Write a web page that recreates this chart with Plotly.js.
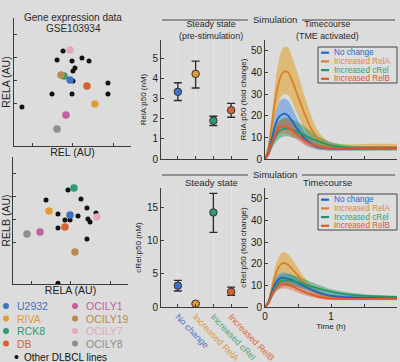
<!DOCTYPE html>
<html><head><meta charset="utf-8">
<script src="https://cdn.plot.ly/plotly-3.0.1.min.js"></script>
<style>html,body{margin:0;padding:0;background:#dcdcdc;}#plot{width:400px;height:362px;}</style>
</head><body><div id="plot"></div>
<script>
// ---------- DATA ----------
const cellLines = ['U2932','RIVA','RCK8','DB','OCILY1','OCILY19','OCILY7','OCILY8'];
const cellColors = ['#3d72c4','#e39a33','#2f9a70','#d8622f','#c0609f','#b9894f','#e3a9c3','#8e8e8e'];
// Panel A1: REL vs RELA (AU)
const relA1 = [4.79,6.92,4.27,6.24,4.44,4.02,4.79,3.68];
const relaA1 = [5.16,3.28,5.47,4.69,2.42,5.55,7.50,1.33];
const otherRelA1 = [4.19,3.68,4.96,5.81,6.41,5.21,5.04,5.04,8.03,3.25,4.96,8.03,0.68];
const otherRelaA1 = [7.42,6.72,6.64,6.88,6.64,6.09,5.86,5.08,4.92,4.06,4.06,4.06,3.05];
// Panel A2: RELA vs RELB (AU)
const relaA2 = [4.96,3.13,5.30,4.52,2.35,5.39,7.30,1.22];
const relbA2 = [5.43,5.75,7.56,4.49,4.09,2.52,5.28,3.94];
const otherRelaA2 = [4.78,2.87,5.91,6.43,3.91,5.65,7.22,4.52,4.96,6.52,6.70,3.91,6.43,3.91];
const otherRelbA2 = [7.40,6.61,6.69,5.98,5.51,5.35,5.59,5.04,5.04,5.12,4.88,4.41,3.54,0.05];
// Steady state
const conditions = ['No change','Increased RelA','Increased cRel','Increased RelB'];
const condColors = ['#3d72c4','#e39a33','#2f9a70','#d8622f'];
const condTextColors = ['#4a74c4','#e0963f','#4aa77a','#e0653e'];
const relaSS = [3.33,4.22,1.90,2.42];
const relaSSlo = [2.90,3.52,1.66,2.07];
const relaSShi = [3.78,4.85,2.12,2.76];
const crelSS = [3.23,0.50,14.3,2.30];
const crelSSlo = [2.42,0.35,11.3,1.77];
const crelSShi = [4.04,0.65,17.2,3.00];
// Timecourse
const time = [0,0.05,0.1,0.15,0.2,0.25,0.3,0.35,0.4,0.5,0.6,0.7,0.8,0.9,1.0,1.2,1.4,1.6,1.8,2.0];
const relaTC = {
  blue:   {m:[0,3,9,15,19,20.5,21,20,18,13.5,9.5,7,5.5,5,4.8,4.8,4.9,5,5,5],
           lo:[0,2,6.5,11,14,15,15.5,15,13.5,10,7,5.2,4.3,3.9,3.8,3.8,3.9,4,4,4],
           hi:[0,4,12,20,25,27.5,28,27,24.5,18,12.5,9,7,6,5.7,5.7,5.8,5.9,6,6]},
  orange: {m:[0,5,15,26,34,39,40.5,40,37,29,21,14,9.5,7,5.8,5.2,5.2,5.3,5.4,5.5],
           lo:[0,3,10,19,25,29,30,29.5,27,20,14,9,6.5,5,4.3,4,4,4,4.2,4.3],
           hi:[0,7,20,34,44,50,52,51.5,48,39,29,20,13,9.5,7.5,6.8,6.8,7,7,7]},
  green:  {m:[0,2,6.5,10,12.5,13.5,14,14,13.5,12.5,11,9.5,8.3,7.2,6.3,5.4,5,4.9,4.9,5],
           lo:[0,1.5,4.5,7,9,10,10.5,10.5,10,9.5,8.5,7.3,6.3,5.5,4.8,4.3,4,3.9,3.9,4],
           hi:[0,3,9,14,17,18.5,19,19,18.5,17,15,12.5,10.5,9,7.8,6.5,6,5.9,5.9,6]},
  red:    {m:[0,2.2,7,11,14,15,15,14.5,13.5,11,8.5,6.8,5.8,5.2,5,4.9,4.9,5,5,5],
           lo:[0,1.6,5,8.5,11,12,12,11.5,10.5,8.5,6.5,5.3,4.6,4.2,4,4,4,4.1,4.1,4.1],
           hi:[0,3,9,14,17,18,18.5,18,17,14,11,8.5,7,6.2,5.8,5.7,5.7,5.8,5.8,5.9]}
};
const crelTC = {
  blue:   {m:[0,2,6.5,10.5,12.5,13.5,13.5,13,12.5,11,9.5,8,6.8,5.8,5.2,4.6,4.3,4.2,4.1,4.1],
           lo:[0,1.5,5,8.5,10,11,11,10.5,10,9,7.8,6.7,5.7,4.9,4.4,3.9,3.7,3.6,3.5,3.5],
           hi:[0,2.5,8,13,15,16,16,15.5,15,13,11,9.3,8,6.8,6,5.3,5,4.8,4.7,4.7]},
  orange: {m:[0,2.5,8,14,18,20,20.3,19.5,18,14.5,11,8,6,5,4.3,4,4,4,4,4],
           lo:[0,1.5,5.5,10,13.5,15,15.3,14.5,13.5,11,8.5,6.2,4.8,4,3.5,3.3,3.3,3.3,3.3,3.3],
           hi:[0,3.5,10.5,18,22.5,25,25.3,24.5,22.5,18,13.5,10,7.5,6,5.2,4.8,4.8,4.8,4.8,4.8]},
  green:  {m:[0,1.8,5.5,9,11,12,12.3,12.3,12,11.5,10.5,9.5,8.6,7.8,7,6,5.4,5,4.8,4.7],
           lo:[0,1.3,4,6.8,8.3,9.3,9.6,9.6,9.5,9.1,8.4,7.6,6.9,6.3,5.8,5,4.6,4.3,4.2,4.1],
           hi:[0,2.3,7,11.5,14,15,15.3,15.3,15,14,12.8,11.5,10.3,9.3,8.3,7,6.2,5.7,5.4,5.2]},
  red:    {m:[0,1.6,5,8,9.8,10.5,10.5,10.2,9.7,8.3,6.9,5.7,4.8,4.2,3.9,3.8,3.8,3.8,3.8,3.8],
           lo:[0,1.2,3.8,6.3,7.8,8.5,8.5,8.3,7.8,6.6,5.5,4.6,3.9,3.4,3.2,3.1,3.1,3.1,3.1,3.1],
           hi:[0,2,6.2,9.8,11.8,12.5,12.5,12.2,11.6,10,8.3,6.8,5.7,5,4.6,4.4,4.4,4.4,4.4,4.4]}
};
const tcOrder = ['blue','orange','green','red'];
const tcLine = {blue:'#2063c8',orange:'#d98028',green:'#23956a',red:'#e2562b'};
const tcBand = {blue:'rgba(80,145,220,0.55)',orange:'rgba(222,165,50,0.6)',green:'rgba(50,150,100,0.5)',red:'rgba(225,95,55,0.45)'};
const tcLegendText = {blue:'#2a64d0',orange:'#e0883a',green:'#3a9e70',red:'#e2562b'};

// ---------- LAYOUT HELPERS ----------
const W=400,H=362;
const FONT='Liberation Sans, Arial, sans-serif';
function xd(a,b){return [a/W,b/W];}
function yd(t,b){return [1-b/H,1-t/H];}
function px(x){return x/W;} function py(y){return 1-y/H;}
const base = {showline:true,linecolor:'#3c3c3c',linewidth:1,ticks:'inside',ticklen:3,tickcolor:'#3c3c3c',
  showgrid:false,zeroline:false,tickfont:{size:10,color:'#222',family:FONT},fixedrange:true};
function A(o){return Object.assign({},base,o);}

const traces=[];
// Scatter A1
traces.push({x:otherRelA1,y:otherRelaA1,xaxis:'x',yaxis:'y',mode:'markers',type:'scatter',
  marker:{color:'#111',size:5},showlegend:false,cliponaxis:true});
traces.push({x:relA1,y:relaA1,xaxis:'x',yaxis:'y',mode:'markers',type:'scatter',text:cellLines,
  marker:{color:cellColors,size:7.5},showlegend:false});
// Scatter A2
traces.push({x:otherRelaA2,y:otherRelbA2,xaxis:'x2',yaxis:'y2',mode:'markers',type:'scatter',
  marker:{color:'#111',size:5},showlegend:false,cliponaxis:true});
traces.push({x:relaA2,y:relbA2,xaxis:'x2',yaxis:'y2',mode:'markers',type:'scatter',text:cellLines,
  marker:{color:cellColors,size:7.5},showlegend:false});
// Steady state
const idx=[1,2,3,4];
function ss(vals,lo,hi,xa,ya){
  return {x:idx,y:vals,xaxis:xa,yaxis:ya,type:'scatter',mode:'markers',showlegend:false,
    marker:{color:condColors,size:7.5,line:{color:'#333',width:1}},
    error_y:{type:'data',symmetric:false,array:vals.map((v,i)=>hi[i]-v),arrayminus:vals.map((v,i)=>v-lo[i]),
      color:'#2a2a2a',thickness:1.3,width:4}};
}
traces.push(ss(relaSS,relaSSlo,relaSShi,'x3','y3'));
traces.push(ss(crelSS,crelSSlo,crelSShi,'x4','y4'));
// Timecourse
function tc(data,xa,ya){
  ['orange','blue','green','red'].forEach(k=>{
    traces.push({x:time,y:data[k].lo,xaxis:xa,yaxis:ya,type:'scatter',mode:'lines',line:{width:0,shape:'spline'},showlegend:false,hoverinfo:'skip'});
    traces.push({x:time,y:data[k].hi,xaxis:xa,yaxis:ya,type:'scatter',mode:'lines',fill:'tonexty',fillcolor:tcBand[k],line:{width:0,shape:'spline'},showlegend:false,hoverinfo:'skip'});
  });
  ['orange','blue','green','red'].forEach(k=>{
    traces.push({x:time,y:data[k].m,xaxis:xa,yaxis:ya,type:'scatter',mode:'lines',line:{width:1.8,color:tcLine[k],shape:'spline'},showlegend:false});
  });
}
tc(relaTC,'x5','y5');
tc(crelTC,'x6','y6');

// ---------- annotations & shapes ----------
const ann=[]; const shapes=[];
function T(text,x,y,size,opts){ann.push(Object.assign({text:text,x:px(x),y:py(y),xref:'paper',yref:'paper',showarrow:false,
  font:{size:size,color:'#2a2a2a',family:FONT},xanchor:'center',yanchor:'middle'},opts||{}));}
T('Gene expression data',73,17,10);
T('GSE103934',73,29,10);
[20,175].forEach(y=>{
  T('Simulation',275,y,9.5);
  shapes.push({type:'line',xref:'paper',yref:'paper',x0:px(162),x1:px(248),y0:py(y),y1:py(y),line:{color:'#444',width:1}});
  shapes.push({type:'line',xref:'paper',yref:'paper',x0:px(302),x1:px(395),y0:py(y),y1:py(y),line:{color:'#444',width:1}});
});
T('Steady state<br>(pre-stimulation)',211,30.5,8.9);
T('Timecourse<br>(TME activated)',327.5,30.5,8.9);
T('Steady state',211,182,9.5);
T('Timecourse',327,182,9.5);

// cell line legend
const legPos=[[6,306],[6,318.5],[6,331],[6,343.5],[75,306],[75,318.5],[75,331],[75,343.5]];
cellLines.forEach((n,i)=>{
  const [lx,ly]=legPos[i];
  shapes.push({type:'circle',xref:'paper',yref:'paper',x0:px(lx-3),x1:px(lx+3),y0:py(ly+3),y1:py(ly-3),fillcolor:cellColors[i],line:{width:0}});
  T(n,lx+9,ly,10.5,{xanchor:'left',font:{size:10.5,color:cellColors[i],family:FONT}});
});
shapes.push({type:'circle',xref:'paper',yref:'paper',x0:px(14.5),x1:px(18.5),y0:py(359),y1:py(355),fillcolor:'#111',line:{width:0}});
T('Other DLBCL lines',22,357,10,{xanchor:'left',font:{size:10,color:'#111',family:FONT}});

// timecourse legends
function tleg(top){
  shapes.push({type:'rect',xref:'paper',yref:'paper',x0:px(318),x1:px(397),y0:py(top+36),y1:py(top),line:{color:'#444',width:1},fillcolor:'#dedede',layer:'above'});
  tcOrder.forEach((k,i)=>{
    const y=top+5.7+i*8.7;
    shapes.push({type:'line',xref:'paper',yref:'paper',x0:px(321),x1:px(329),y0:py(y),y1:py(y),line:{color:tcLine[k],width:2.2}});
    T(conditions[i],331.5,y,8.2,{xanchor:'left',font:{size:8.2,color:tcLegendText[k],family:FONT}});
  });
}
tleg(47); tleg(194);

const layout={
  width:W,height:H,margin:{l:0,r:0,t:0,b:0},paper_bgcolor:'#dcdcdc',plot_bgcolor:'rgba(0,0,0,0)',
  font:{family:FONT,color:'#222'},showlegend:false,
  xaxis:A({domain:xd(14,131),range:[0,10],showticklabels:false,tickvals:[1.6,5.0,8.5],
    title:{text:'REL (AU)',font:{size:10.5,color:'#222'},standoff:2},anchor:'y'}),
  yaxis:A({domain:yd(18,146),range:[0,10],showticklabels:false,tickvals:[3.3,5.1,6.9,8.7],
    title:{text:'RELA (AU)',font:{size:10.5,color:'#222'},standoff:2},anchor:'x'}),
  xaxis2:A({domain:xd(13,128),range:[0,10],showticklabels:false,tickvals:[1.6,5.0,8.5],
    title:{text:'RELA (AU)',font:{size:10.5,color:'#222'},standoff:2},anchor:'y2'}),
  yaxis2:A({domain:yd(157,284),range:[0,10],showticklabels:false,tickvals:[3.3,5.1,6.9,8.7],
    title:{text:'RELB (AU)',font:{size:10.5,color:'#222'},standoff:2},anchor:'x2'}),
  xaxis3:A({domain:xd(161,248),range:[0.05,4.95],tickvals:idx,showticklabels:false,showgrid:true,gridcolor:'#e4e4e4',gridwidth:1,anchor:'y3'}),
  yaxis3:A({domain:yd(40,159),range:[0,5.9],tickvals:[0,1,2,3,4,5],
    title:{text:'RelA:p50 (nM)',font:{size:8,color:'#222'},standoff:4},anchor:'x3'}),
  xaxis4:A({domain:xd(161,248),range:[0.05,4.95],tickvals:idx,
    ticktext:conditions.map((c,i)=>'<span style="color:'+condTextColors[i]+'">'+c+'</span>'),
    tickangle:46,tickfont:{size:9,family:FONT},showgrid:true,gridcolor:'#e4e4e4',gridwidth:1,anchor:'y4'}),
  yaxis4:A({domain:yd(188,307),range:[0,18],tickvals:[0,5,10,15],
    title:{text:'cRel:p50 (nM)',font:{size:8,color:'#222'},standoff:4},anchor:'x4'}),
  xaxis5:A({domain:xd(265,397),range:[0,2],tickvals:[0,0.5,1,1.5,2],showticklabels:false,anchor:'y5'}),
  yaxis5:A({domain:yd(40,159),range:[0,55],tickvals:[0,10,20,30,40,50],
    title:{text:'RelA:p50 (fold change)',font:{size:8,color:'#222'},standoff:3},anchor:'x5'}),
  xaxis6:A({domain:xd(265,397),range:[0,2],tickvals:[0,0.5,1,1.5,2],ticktext:['0','','1','','2'],
    title:{text:'Time (h)',font:{size:8,color:'#222'},standoff:2},anchor:'y6'}),
  yaxis6:A({domain:yd(188,307),range:[0,55],tickvals:[0,10,20,30,40,50],
    title:{text:'cRel:p50 (fold change)',font:{size:8,color:'#222'},standoff:3},anchor:'x6'}),
  annotations:ann,shapes:shapes
};
Plotly.newPlot('plot',traces,layout,{staticPlot:true,displayModeBar:false});
</script></body></html>
